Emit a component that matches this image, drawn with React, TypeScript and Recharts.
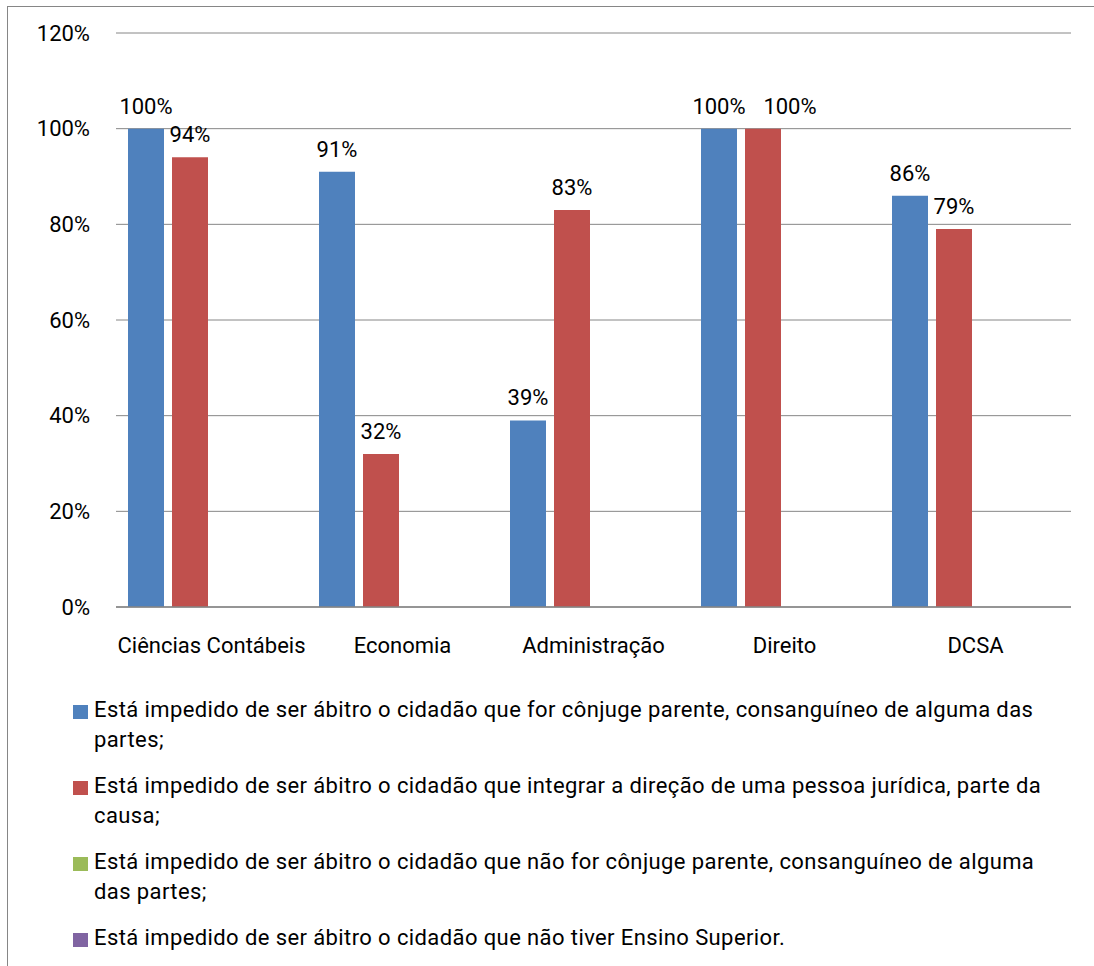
import React from 'react';
import { BarChart, Bar, XAxis, YAxis, CartesianGrid, LabelList } from 'recharts';

// Categories (departments / courses)
const categories = ['Ciências Contábeis', 'Economia', 'Administração', 'Direito', 'DCSA'];

// Share of respondents per answer option, in percent
const conjugeParente = [100, 91, 39, 100, 86];
const direcaoPessoaJuridica = [94, 32, 83, 100, 79];
const naoConjugeParente = [0, 0, 0, 0, 0];
const semEnsinoSuperior = [0, 0, 0, 0, 0];

const yTicks = [0, 20, 40, 60, 80, 100, 120];

const seriesNames = [
  'Está impedido de ser ábitro o cidadão que for cônjuge parente, consanguíneo de alguma das partes;',
  'Está impedido de ser ábitro o cidadão que integrar a direção de uma pessoa jurídica, parte da causa;',
  'Está impedido de ser ábitro o cidadão que não for cônjuge parente, consanguíneo de alguma das partes;',
  'Está impedido de ser ábitro o cidadão que não tiver Ensino Superior.',
];
const seriesColors = ['#4F81BD', '#C0504D', '#9BBB59', '#8064A2'];
const seriesKeys = ['s1', 's2', 's3', 's4'];
const seriesValues = [conjugeParente, direcaoPessoaJuridica, naoConjugeParente, semEnsinoSuperior];

const data = categories.map((name, i) => {
  const row: Record<string, string | number> = { name };
  seriesKeys.forEach((k, s) => {
    row[k] = seriesValues[s][i];
  });
  return row;
});

const FONT = 'Roboto, "Open Sans", sans-serif';
const FONT_SIZE = 22;
const GRID = '#868686';
const LABEL_OFFSET = 15;

const pct = (v: any) => `${v}%`;

// Value label above a bar; when the previous series' label sits at the
// same height in the same category, nudge this one to the right.
const makeLabel = (seriesIndex: number) => (props: any) => {
  const { x, y, width, value, index } = props;
  if (value === undefined || value === null) return null;
  let dx = 0;
  if (seriesIndex > 0) {
    const prev = seriesValues[seriesIndex - 1][index];
    if (Math.abs(prev - Number(value)) < 4) dx = 27;
  }
  return (
    <text
      x={Number(x) + Number(width) / 2 + dx}
      y={Number(y) - LABEL_OFFSET}
      textAnchor="middle"
      fill="#000"
      fontSize={FONT_SIZE}
      fontFamily={FONT}
    >
      {pct(value)}
    </text>
  );
};

export default function App() {
  return (
    <div
      style={{
        position: 'absolute',
        left: 7,
        top: 6,
        width: 1087,
        height: 960,
        boxSizing: 'border-box',
        borderLeft: `1px solid ${GRID}`,
        borderTop: `1px solid ${GRID}`,
        fontFamily: FONT,
        background: '#fff',
        overflow: 'hidden',
      }}
    >
      <BarChart
        width={1081}
        height={660}
        data={data}
        margin={{ top: 26, right: 18, bottom: 0, left: 28 }}
        barCategoryGap={12}
        barGap={8}
      >
        <CartesianGrid vertical={false} stroke={GRID} strokeWidth={1} />
        <XAxis
          dataKey="name"
          axisLine={{ stroke: GRID, strokeWidth: 1.5 }}
          tickLine={false}
          tickMargin={24}
          height={60}
          tick={{ fill: '#000', fontSize: FONT_SIZE, fontFamily: FONT }}
          interval={0}
        />
        <YAxis
          width={80}
          domain={[0, 120]}
          ticks={yTicks}
          tickFormatter={pct}
          axisLine={false}
          tickLine={false}
          tickMargin={20}
          tick={{ fill: '#000', fontSize: FONT_SIZE, fontFamily: FONT }}
        />
        {seriesKeys.map((k, s) => (
          <Bar key={k} dataKey={k} fill={seriesColors[s]} isAnimationActive={false}>
            {s < 2 && <LabelList dataKey={k} content={makeLabel(s)} />}
          </Bar>
        ))}
      </BarChart>
      <div style={{ position: 'absolute', left: 65, top: 688, width: 1010 }}>
        {seriesNames.map((n, s) => (
          <div
            key={n}
            style={{
              display: 'flex',
              alignItems: 'flex-start',
              fontSize: FONT_SIZE,
              lineHeight: '30px',
              letterSpacing: 0.4,
              color: '#000',
              marginBottom: 16,
            }}
          >
            <span
              style={{
                width: 15,
                height: 14,
                background: seriesColors[s],
                marginTop: 10,
                marginRight: 6,
                flex: 'none',
              }}
            />
            <span style={{ width: 960 }}>{n}</span>
          </div>
        ))}
      </div>
    </div>
  );
}
